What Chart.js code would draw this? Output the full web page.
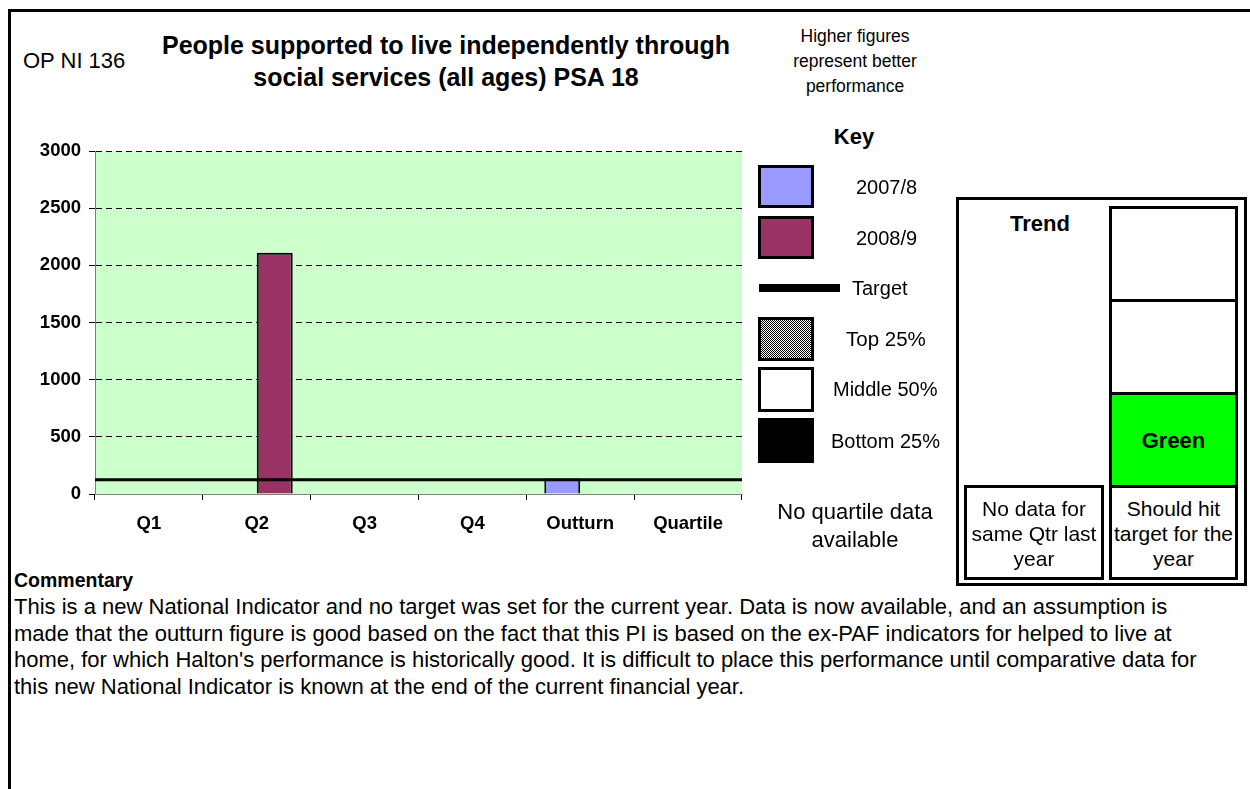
<!DOCTYPE html>
<html>

<head>
    <meta http-equiv="Content-Type" content="text/html; charset=utf-8" />
    <title>OP NI 136</title>
    <style>
        body { margin: 0; background: #fff; font-family: Arial, "Liberation Sans", sans-serif; color: #000; }
        .page { position: relative; width: 1250px; height: 789px; overflow: hidden; }
        .frame { position: absolute; left: 8px; top: 9px; width: 1260px; height: 800px; border-top: 3px solid #000; border-left: 3px solid #000; }
        .t { position: absolute; white-space: nowrap; line-height: 1; }
        .c { text-align: center; }
        .b { font-weight: bold; }
        .box { position: absolute; box-sizing: border-box; border: 3px solid #000; }
        #chartWrap { position: absolute; left: 0; top: 0; width: 760px; height: 560px; }
    </style>
</head>

<body>
    <div class="page">
        <div class="frame"></div>

        <div class="t" style="left:23px; top:50px; font-size:22px;">OP NI 136</div>
        <div class="t c b" style="left:146px; top:29px; width:600px; font-size:25px; line-height:32px;">People supported to live independently through<br>social services (all ages) PSA 18</div>
        <div class="t c" style="left:775px; top:24px; width:160px; font-size:17.5px; line-height:25px;">Higher figures<br>represent better<br>performance</div>

        <div id="chartWrap"><canvas id="chart" width="760" height="560"></canvas></div>

        <!-- key -->
        <div class="t c b" style="left:804px; top:126px; width:100px; font-size:22px;">Key</div>
        <div class="box" style="left:758px; top:165px; width:56px; height:43px; background:#9999FF;"></div>
        <div class="t" style="left:856px; top:177px; font-size:20px;">2007/8</div>
        <div class="box" style="left:758px; top:216px; width:56px; height:43px; background:#993366;"></div>
        <div class="t" style="left:856px; top:228px; font-size:20px;">2008/9</div>
        <div style="position:absolute; left:759px; top:284px; width:81px; height:8px; background:#000;"></div>
        <div class="t" style="left:852px; top:278px; font-size:20px;">Target</div>
        <div class="box" style="left:758px; top:317px; width:56px; height:44px; background-color:#888; background-image: repeating-conic-gradient(#000 0 25%, #fff 0 50%); background-size: 2px 2px;"></div>
        <div class="t" style="left:846px; top:329px; font-size:20.5px;">Top 25%</div>
        <div class="box" style="left:758px; top:367px; width:56px; height:45px; background:#fff;"></div>
        <div class="t" style="left:833px; top:379px; font-size:20px;">Middle 50%</div>
        <div class="box" style="left:758px; top:418px; width:56px; height:45px; background:#000;"></div>
        <div class="t" style="left:831px; top:431px; font-size:20px;">Bottom 25%</div>
        <div class="t c" style="left:755px; top:498px; width:200px; font-size:22px; line-height:28px;">No quartile data<br>available</div>

        <!-- trend panel -->
        <div class="box" style="left:956px; top:197px; width:291px; height:389px;"></div>
        <div class="t c b" style="left:985px; top:213px; width:110px; font-size:22px;">Trend</div>
        <div class="box" style="left:1109px; top:206px; width:129px; height:96px; background:#fff;"></div>
        <div class="box" style="left:1109px; top:299px; width:129px; height:96px; background:#fff;"></div>
        <div class="box" style="left:1109px; top:392px; width:129px; height:96px; background:#00FF00;"></div>
        <div class="t c b" style="left:1109px; top:430px; width:129px; font-size:22px;">Green</div>
        <div class="box" style="left:1109px; top:485px; width:129px; height:95px; background:#fff;"></div>
        <div class="t c" style="left:1109px; top:496px; width:129px; font-size:21px; line-height:25px;">Should hit<br>target for the<br>year</div>
        <div class="box" style="left:964px; top:485px; width:140px; height:95px; background:#fff;"></div>
        <div class="t c" style="left:964px; top:496px; width:140px; font-size:21px; line-height:25px;">No data for<br>same Qtr last<br>year</div>

        <!-- commentary -->
        <div class="t b" style="left:14px; top:571px; font-size:19.5px;">Commentary</div>
        <div class="t" style="left:14px; top:594px; font-size:22px; line-height:26.7px;">This is a new National Indicator and no target was set for the current year. Data is now available, and an assumption is<br>made that the outturn figure is good based on the fact that this PI is based on the ex-PAF indicators for helped to live at<br>home, for which Halton's performance is historically good. It is difficult to place this performance until comparative data for<br>this new National Indicator is known at the end of the current financial year.</div>
    </div>

    <script src="https://cdn.jsdelivr.net/npm/chart.js"></script>

    <script>
        // data
        var categories = ['Q1', 'Q2', 'Q3', 'Q4', 'Outturn', 'Quartile'];
        var seriesNames = ['2007/8', '2008/9'];
        var values0708 = [null, null, null, null, 135, null];
        var values0809 = [null, 2110, null, null, null, null];
        var targetValue = 125;
        var yTicks = [0, 500, 1000, 1500, 2000, 2500, 3000];

        // green plot background + target line, both through the chart's own scales
        var plotExtras = {
            id: 'plotExtras',
            beforeDraw: function (chart) {
                var a = chart.chartArea, c = chart.ctx;
                c.save();
                c.fillStyle = '#CCFFCC';
                c.fillRect(a.left, a.top, a.right - a.left, a.bottom - a.top);
                c.restore();
            },
            afterDatasetsDraw: function (chart) {
                var a = chart.chartArea, c = chart.ctx;
                var y = chart.scales.y.getPixelForValue(targetValue);
                c.save();
                c.strokeStyle = '#000';
                c.lineWidth = 3;
                c.beginPath();
                c.moveTo(a.left, y);
                c.lineTo(a.right, y);
                c.stroke();
                c.restore();
            }
        };

        var tickFont = { family: 'Arial, "Liberation Sans", sans-serif', size: 18.5, weight: 'bold' };

        new Chart(document.getElementById('chart'), {
            type: 'bar',
            data: {
                labels: categories,
                datasets: [{
                    label: seriesNames[0],
                    data: values0708,
                    backgroundColor: '#9999FF',
                    borderColor: '#000',
                    borderWidth: 2
                }, {
                    label: seriesNames[1],
                    data: values0809,
                    backgroundColor: '#993366',
                    borderColor: '#000',
                    borderWidth: 2
                }]
            },
            plugins: [plotExtras],
            options: {
                responsive: false,
                animation: false,
                categoryPercentage: 0.667,
                barPercentage: 1.0,
                layout: { padding: { top: 151, right: 18, bottom: 0, left: 0 } },
                plugins: { legend: { display: false }, tooltip: { enabled: false } },
                scales: {
                    x: {
                        grid: { display: true, drawOnChartArea: false, drawTicks: true, tickLength: 6, tickColor: '#000', offset: true },
                        border: { display: true, color: '#808080', width: 1 },
                        ticks: { color: '#000', font: tickFont, padding: 13, maxRotation: 0 },
                        afterFit: function (s) { s.height = 66; }
                    },
                    y: {
                        min: 0,
                        max: 3000,
                        afterBuildTicks: function (s) { s.ticks = yTicks.map(function (v) { return { value: v }; }); },
                        grid: {
                            color: function (ctx) { return ctx.tick && ctx.tick.value === 0 ? 'rgba(0,0,0,0)' : '#000'; },
                            borderDash: [6, 4],
                            tickColor: '#000',
                            tickLength: 6,
                            tickBorderDash: []
                        },
                        border: { display: true, color: '#808080', width: 1, dash: [6, 4] },
                        ticks: { color: '#000', font: tickFont, padding: 8, callback: function (v) { return String(v); } },
                        afterFit: function (s) { s.width = 95; }
                    }
                }
            }
        });
    </script>
</body>

</html>
